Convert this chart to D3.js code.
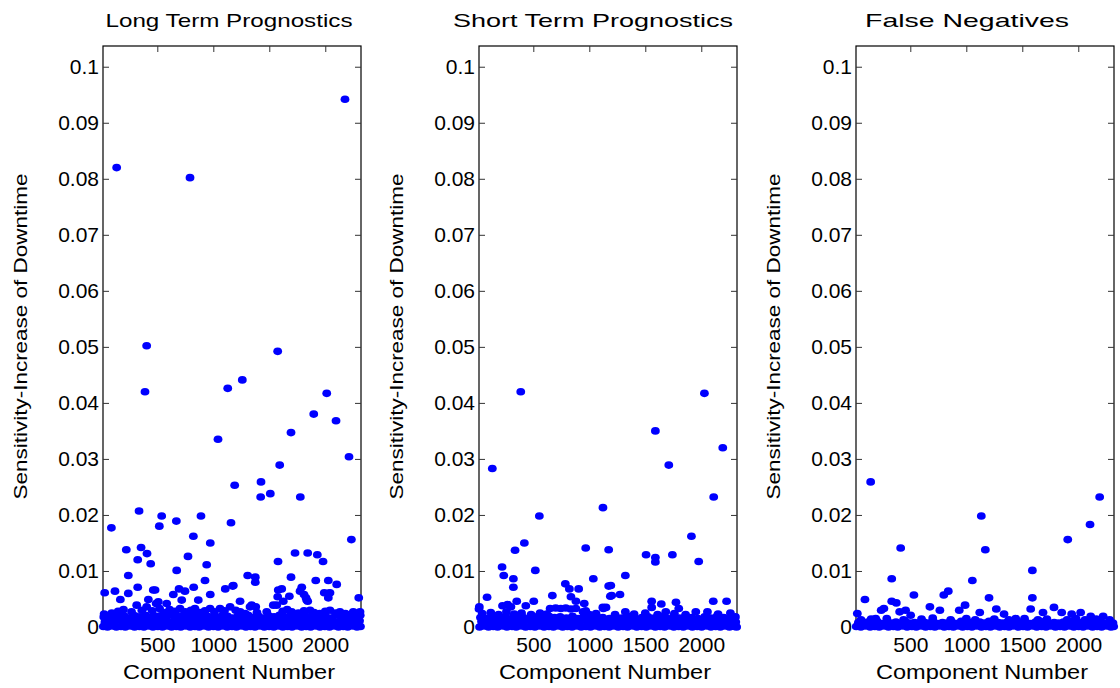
<!DOCTYPE html>
<html>
<head>
<meta charset="utf-8">
<title>Sensitivity scatter</title>
<script src="https://cdnjs.cloudflare.com/ajax/libs/d3/7.8.5/d3.min.js"></script>
<style>
  body { margin: 0; background: #fff; }
  text { font-family: Arial, "Liberation Sans", sans-serif; fill: #000; }
  .tick line { stroke: #333; }
</style>
</head>
<body>
<svg id="chart" width="1120" height="688"></svg>
<script>
// ---- data ----
var panelTitles = ["Long Term Prognostics", "Short Term Prognostics", "False Negatives"];
var xLabel = "Component Number";
var yLabel = "Sensitivity-Increase of Downtime";
var xTicks = [500, 1000, 1500, 2000];
var yTicks = [0, 0.01, 0.02, 0.03, 0.04, 0.05, 0.06, 0.07, 0.08, 0.09, 0.1];
var xRange = [15, 2319];
var yRange = [0, 0.1037];

// long term prognostics: visible outliers
var longTerm = [
  [137,0.0820],[792,0.0802],[2176,0.0942],[405,0.0502],[390,0.0420],[1575,0.0492],[1129,0.0426],
  [1259,0.0441],[1042,0.0335],[2013,0.0417],[1897,0.0380],[2096,0.0368],[1694,0.0347],[2212,0.0304],
  [1593,0.0289],[1191,0.0253],[1426,0.0259],[1423,0.0232],[1509,0.0238],[1777,0.0232],[337,0.0207],
  [539,0.0198],[518,0.0180],[670,0.0189],[890,0.0198],[822,0.0162],[973,0.0150],[1158,0.0186],
  [90,0.0177],[2233,0.0156],[223,0.0138],[355,0.0142],[408,0.0131],[325,0.0120],[441,0.0113],
  [774,0.0126],[941,0.0111],[673,0.0101],[241,0.0092],[926,0.0083],[325,0.0071],[30,0.0061],
  [122,0.0064],[241,0.0060],[480,0.0066],[464,0.0066],[694,0.0068],[825,0.0071],[973,0.0058],[1107,0.0068],
  [1173,0.0073],[170,0.0049],[420,0.0049],[643,0.0058],[747,0.0064],[718,0.0048],[866,0.0048],
  [509,0.0045],[584,0.0042],[1578,0.0117],[1730,0.0132],[1843,0.0132],[1929,0.0129],[1980,0.0117],
  [1307,0.0092],[1375,0.0089],[1375,0.0080],[1694,0.0089],[1915,0.0083],[2027,0.0083],[2102,0.0076],
  [1179,0.0074],[1611,0.0068],[1790,0.0071],[1775,0.0064],[1991,0.0061],[2042,0.0061],[2027,0.0052],
  [2299,0.0052],[1679,0.0055],[1828,0.0052],[1843,0.0046],[1575,0.0054],[1239,0.0046],[1343,0.0039],
  [1379,0.0036],[1625,0.0046],[1536,0.0039],[1580,0.0066],[1810,0.0058],[1834,0.0048],[2030,0.0060]
];
// long term prognostics: the crowded band near zero
var longTermLow = [
  [18,0.0001],[55,0],[96,0.0002],[134,0],[176,0.0001],[214,0],[259,0.0002],[297,0],[341,0.0001],[380,0],
  [423,0.0002],[461,0],[505,0.0001],[546,0],[588,0.0002],[627,0],[671,0.0001],[709,0],[752,0.0002],[793,0],
  [836,0.0001],[874,0],[918,0.0002],[957,0],[1001,0.0001],[1043,0],[1085,0.0002],[1124,0],[1167,0.0001],
  [1206,0],[1250,0.0002],[1291,0],[1333,0.0001],[1372,0],[1416,0.0002],[1455,0],[1499,0.0001],[1540,0],
  [1582,0.0002],[1621,0],[1664,0.0001],[1703,0],[1747,0.0002],[1788,0],[1830,0.0001],[1869,0],[1913,0.0002],
  [1952,0],[1996,0.0001],[2037,0],[2079,0.0002],[2118,0],[2161,0.0001],[2200,0],[2244,0.0002],[2283,0],[2314,0.0001],
  [32,0.0009],[77,0.0011],[118,0.0008],[160,0.0012],[201,0.0009],[243,0.0010],[284,0.0008],[326,0.0011],
  [365,0.0009],[408,0.0012],[447,0.0008],[490,0.0010],[531,0.0009],[574,0.0011],[613,0.0008],[657,0.0012],
  [697,0.0009],[738,0.0010],[780,0.0008],[822,0.0011],[862,0.0009],[905,0.0012],[944,0.0008],[987,0.0010],
  [1028,0.0009],[1071,0.0011],[1110,0.0008],[1153,0.0012],[1194,0.0009],[1236,0.0010],[1277,0.0008],
  [1319,0.0011],[1360,0.0009],[1402,0.0012],[1441,0.0008],[1484,0.0010],[1525,0.0009],[1568,0.0011],
  [1607,0.0008],[1650,0.0012],[1691,0.0009],[1733,0.0010],[1774,0.0008],[1816,0.0011],[1857,0.0009],
  [1899,0.0012],[1938,0.0008],[1981,0.0010],[2022,0.0009],[2065,0.0011],[2104,0.0008],[2147,0.0012],
  [2188,0.0009],[2230,0.0010],[2271,0.0008],[2306,0.0011],
  [22,0.0018],[70,0.0020],[112,0.0017],[165,0.0021],[208,0.0019],[250,0.0016],[300,0.0020],[346,0.0018],
  [396,0.0021],[440,0.0017],[487,0.0019],[528,0.0020],[580,0.0016],[625,0.0021],[668,0.0018],[716,0.0020],
  [760,0.0017],[805,0.0019],[850,0.0021],[893,0.0016],[940,0.0020],[990,0.0018],[1035,0.0017],[1080,0.0021],
  [1128,0.0019],[1172,0.0016],[1220,0.0020],[1266,0.0018],[1312,0.0021],[1355,0.0017],[1405,0.0019],
  [1450,0.0016],[1496,0.0020],[1543,0.0018],[1590,0.0021],[1634,0.0017],[1680,0.0019],[1726,0.0020],
  [1772,0.0016],[1818,0.0021],[1866,0.0018],[1910,0.0020],[1958,0.0017],[2003,0.0019],[2050,0.0016],
  [2098,0.0021],[2142,0.0018],[2190,0.0020],[2236,0.0017],[2282,0.0019],[2312,0.0021],
  [25,0.0023],[93,0.0025],[150,0.0028],[198,0.0031],[270,0.0027],[316,0.0039],[362,0.0030],[405,0.0036],
  [455,0.0029],[490,0.0042],[520,0.0033],[560,0.0026],[610,0.0031],[660,0.0028],[703,0.0033],[750,0.0027],
  [800,0.0030],[836,0.0033],[880,0.0026],[925,0.0029],[971,0.0033],[1010,0.0027],[1060,0.0033],[1100,0.0029],
  [1150,0.0036],[1200,0.0030],[1240,0.0027],[1285,0.0024],[1328,0.0036],[1390,0.0026],[1477,0.0027],
  [1566,0.0039],[1620,0.0028],[1660,0.0031],[1700,0.0027],[1760,0.0025],[1810,0.0029],[1864,0.0030],
  [1900,0.0026],[1950,0.0024],[2000,0.0028],[2042,0.0030],[2090,0.0025],[2131,0.0027],[2180,0.0024],
  [2250,0.0027],[2310,0.0027]
];

// short term prognostics
var shortTerm = [
  [134,0.0283],[388,0.0420],[554,0.0198],[420,0.0150],[337,0.0137],[1122,0.0213],[968,0.0141],
  [1173,0.0138],[1590,0.0350],[1710,0.0289],[2028,0.0417],[2192,0.0320],[2111,0.0232],[1912,0.0162],
  [221,0.0107],[236,0.0092],[322,0.0086],[322,0.0071],[518,0.0101],[1036,0.0086],[1173,0.0073],
  [786,0.0077],[822,0.0068],[905,0.0068],[87,0.0053],[352,0.0046],[504,0.0046],[670,0.0056],
  [836,0.0054],[881,0.0046],[955,0.0042],[1188,0.0055],[1121,0.0035],[225,0.0038],[433,0.0038],
  [18,0.0036],[968,0.0029],[1507,0.0129],[1590,0.0124],[1590,0.0116],[1742,0.0129],[1977,0.0117],
  [1322,0.0092],[1192,0.0074],[1200,0.0056],[1274,0.0058],[1557,0.0046],[1643,0.0041],[1774,0.0044],
  [2107,0.0046],[2226,0.0046],[1557,0.0035],[1799,0.0033],[1149,0.0035],[15,0.0032],
  [650,0.0033],[700,0.0034],[745,0.0033],[790,0.0034],[835,0.0032],[880,0.0033],[270,0.0040],[300,0.0036]
];
var shortTermLow = [
  [20,0],[61,0.0002],[100,0],[143,0.0001],[181,0],[226,0.0002],[264,0],[309,0.0001],[347,0],[392,0.0002],
  [431,0],[474,0.0001],[514,0],[557,0.0002],[596,0],[640,0.0001],[679,0],[723,0.0002],[762,0],[805,0.0001],
  [846,0],[888,0.0002],[927,0],[971,0.0001],[1010,0],[1054,0.0002],[1093,0],[1136,0.0001],[1177,0],
  [1219,0.0002],[1258,0],[1302,0.0001],[1341,0],[1385,0.0002],[1424,0],[1467,0.0001],[1508,0],[1550,0.0002],
  [1589,0],[1633,0.0001],[1672,0],[1716,0.0002],[1755,0],[1798,0.0001],[1839,0],[1881,0.0002],[1920,0],
  [1964,0.0001],[2003,0],[2047,0.0002],[2086,0],[2129,0.0001],[2170,0],[2212,0.0002],[2251,0],[2295,0.0001],[2316,0],
  [38,0.0010],[81,0.0008],[124,0.0011],[164,0.0009],[205,0.0012],[248,0.0008],[289,0.0010],[330,0.0009],
  [371,0.0011],[413,0.0008],[454,0.0012],[495,0.0009],[538,0.0010],[578,0.0008],[620,0.0011],[661,0.0009],
  [703,0.0012],[744,0.0008],[785,0.0010],[828,0.0009],[868,0.0011],[910,0.0008],[951,0.0012],[992,0.0009],
  [1034,0.0010],[1075,0.0008],[1117,0.0011],[1158,0.0009],[1199,0.0012],[1241,0.0008],[1282,0.0010],
  [1323,0.0009],[1365,0.0011],[1406,0.0008],[1448,0.0012],[1489,0.0009],[1530,0.0010],[1572,0.0008],
  [1613,0.0011],[1654,0.0009],[1696,0.0012],[1737,0.0008],[1779,0.0010],[1820,0.0009],[1861,0.0011],
  [1903,0.0008],[1944,0.0012],[1985,0.0009],[2027,0.0010],[2068,0.0008],[2110,0.0011],[2151,0.0009],
  [2192,0.0012],[2234,0.0008],[2275,0.0010],[2308,0.0009],
  [28,0.0017],[85,0.0015],[140,0.0019],[196,0.0016],[250,0.0018],[305,0.0015],[362,0.0019],[410,0.0017],
  [470,0.0016],[530,0.0018],[590,0.0015],[640,0.0019],[690,0.0017],[740,0.0018],[795,0.0016],[850,0.0019],
  [900,0.0015],[950,0.0018],[1010,0.0016],[1065,0.0019],[1120,0.0017],[1180,0.0015],[1236,0.0018],
  [1290,0.0016],[1350,0.0019],[1410,0.0015],[1470,0.0017],[1525,0.0018],[1580,0.0016],[1640,0.0019],
  [1695,0.0015],[1750,0.0018],[1805,0.0016],[1860,0.0019],[1915,0.0017],[1970,0.0015],[2030,0.0018],
  [2085,0.0016],[2140,0.0019],[2200,0.0017],[2255,0.0015],[2305,0.0018],
  [44,0.0024],[120,0.0026],[190,0.0022],[260,0.0027],[330,0.0023],[395,0.0025],[480,0.0022],[560,0.0025],
  [620,0.0023],[944,0.0027],[1000,0.0022],[1060,0.0024],[1125,0.0033],[1230,0.0022],[1322,0.0027],
  [1400,0.0023],[1500,0.0025],[1610,0.0022],[1683,0.0027],[1760,0.0024],[1860,0.0022],[1951,0.0027],
  [2055,0.0027],[2150,0.0023],[2260,0.0025]
];

// false negatives
var falseNeg = [
  [146,0.0259],[414,0.0141],[1134,0.0198],[1170,0.0138],[1906,0.0156],[2105,0.0183],[2191,0.0232],
  [95,0.0049],[334,0.0086],[334,0.0046],[375,0.0043],[532,0.0057],[264,0.0033],[240,0.0030],[27,0.0024],
  [191,0.0015],[405,0.0027],[458,0.0030],[503,0.0021],[675,0.0036],[764,0.0030],[799,0.0057],[839,0.0064],
  [937,0.0030],[989,0.0039],[1054,0.0083],[1120,0.0026],[1203,0.0052],[1268,0.0032],[1337,0.0023],
  [1441,0.0015],[1590,0.0101],[1590,0.0052],[1575,0.0032],[1685,0.0026],[1783,0.0035],[1852,0.0026],
  [1941,0.0023],[2021,0.0026],[2111,0.0019],[2222,0.0019]
];
var falseNegLow = [
  [17,0.0001],[58,0],[99,0.0002],[141,0],[183,0.0001],[222,0],[266,0.0002],[305,0],[349,0.0001],[388,0],
  [430,0.0002],[471,0],[514,0.0001],[553,0],[597,0.0002],[636,0],[680,0.0001],[719,0],[762,0.0002],[803,0],
  [845,0.0001],[884,0],[928,0.0002],[967,0],[1011,0.0001],[1050,0],[1093,0.0002],[1134,0],[1176,0.0001],
  [1215,0],[1259,0.0002],[1298,0],[1342,0.0001],[1381,0],[1424,0.0002],[1465,0],[1507,0.0001],[1546,0],
  [1590,0.0002],[1629,0],[1673,0.0001],[1712,0],[1755,0.0002],[1796,0],[1838,0.0001],[1877,0],[1921,0.0002],
  [1960,0],[2004,0.0001],[2043,0],[2086,0.0002],[2127,0],[2169,0.0001],[2208,0],[2252,0.0002],[2291,0],[2316,0.0001],
  [36,0.0008],[80,0.0006],[121,0.0009],[163,0.0007],[204,0.0010],[247,0.0006],[287,0.0008],[330,0.0007],
  [372,0.0009],[412,0.0006],[455,0.0010],[496,0.0007],[538,0.0008],[580,0.0006],[621,0.0009],[663,0.0007],
  [704,0.0010],[746,0.0006],[787,0.0008],[829,0.0007],[871,0.0009],[911,0.0006],[954,0.0010],[995,0.0007],
  [1037,0.0008],[1079,0.0006],[1120,0.0009],[1161,0.0007],[1203,0.0010],[1245,0.0006],[1286,0.0008],
  [1328,0.0007],[1369,0.0009],[1410,0.0006],[1453,0.0010],[1494,0.0007],[1535,0.0008],[1577,0.0006],
  [1619,0.0009],[1660,0.0007],[1702,0.0010],[1743,0.0006],[1785,0.0008],[1826,0.0007],[1868,0.0009],
  [1909,0.0006],[1950,0.0010],[1993,0.0007],[2034,0.0008],[2075,0.0006],[2117,0.0009],[2159,0.0007],
  [2200,0.0010],[2241,0.0006],[2283,0.0008],[2310,0.0007],
  [60,0.0013],[150,0.0014],[290,0.0015],[440,0.0013],[600,0.0014],[700,0.0016],[860,0.0013],[1000,0.0015],
  [1080,0.0013],[1250,0.0014],[1380,0.0013],[1520,0.0015],[1640,0.0013],[1720,0.0014],[1900,0.0013],
  [1980,0.0015],[2060,0.0013],[2160,0.0014],[2280,0.0013]
];

var panels = [
  { title: panelTitles[0], points: longTerm.concat(longTermLow) },
  { title: panelTitles[1], points: shortTerm.concat(shortTermLow) },
  { title: panelTitles[2], points: falseNeg.concat(falseNegLow) }
];

// ---- layout ----
var svg = d3.select("#chart");
var panelLefts = [103, 479, 856];
var titleCenters = [229, 593, 967];
var titleLengths = [247, 280, 204];
var panelW = 258, plotTop = 46, plotBottom = 627;

var y = d3.scaleLinear().domain(yRange).range([plotBottom, plotTop]);

panels.forEach(function(p, i) {
  var left = panelLefts[i];
  var x = d3.scaleLinear().domain(xRange).range([left, left + panelW]);
  var g = svg.append("g");

  // box
  g.append("rect")
    .attr("x", left).attr("y", plotTop)
    .attr("width", panelW).attr("height", plotBottom - plotTop)
    .attr("fill", "none").attr("stroke", "#000").attr("stroke-width", 1.2);

  // y axis left, with labels
  var ya = g.append("g").attr("transform", "translate(" + left + ",0)")
    .call(d3.axisLeft(y).tickValues(yTicks).tickFormat(d3.format("~g"))
      .tickSizeInner(-6).tickSizeOuter(0).tickPadding(4));
  ya.select(".domain").remove();
  ya.selectAll("text").style("font-size", "21px");

  // mirrored ticks on the right
  var yr = g.append("g").attr("transform", "translate(" + (left + panelW) + ",0)")
    .call(d3.axisRight(y).tickValues(yTicks).tickFormat("").tickSizeInner(-6).tickSizeOuter(0));
  yr.select(".domain").remove();

  // x axis bottom
  var xa = g.append("g").attr("transform", "translate(0," + plotBottom + ")")
    .call(d3.axisBottom(x).tickValues(xTicks).tickFormat(d3.format("d"))
      .tickSizeInner(-6).tickSizeOuter(0).tickPadding(10));
  xa.select(".domain").remove();
  xa.selectAll("text").style("font-size", "21px");

  // x ticks on top
  var xt = g.append("g").attr("transform", "translate(0," + plotTop + ")")
    .call(d3.axisTop(x).tickValues(xTicks).tickFormat("").tickSizeInner(-6).tickSizeOuter(0));
  xt.select(".domain").remove();

  // points
  g.append("g").selectAll("ellipse")
    .data(p.points)
    .enter()
    .append("ellipse")
    .attr("cx", function(d) { return x(d[0]); })
    .attr("cy", function(d) { return y(d[1]); })
    .attr("rx", 4.4).attr("ry", 3.8)
    .attr("fill", "#0000ff");

  // title
  g.append("text")
    .attr("x", titleCenters[i]).attr("y", 27)
    .attr("text-anchor", "middle")
    .attr("textLength", titleLengths[i]).attr("lengthAdjust", "spacingAndGlyphs")
    .style("font-size", "19px")
    .text(p.title);

  // x label
  g.append("text")
    .attr("x", left + panelW / 2 - 3).attr("y", 679)
    .attr("text-anchor", "middle")
    .attr("textLength", 212).attr("lengthAdjust", "spacingAndGlyphs")
    .style("font-size", "20px")
    .text(xLabel);

  // y label
  g.append("text")
    .attr("transform", "translate(" + (left - 83) + "," + (plotTop + plotBottom) / 2 + ") rotate(-90)")
    .attr("text-anchor", "middle")
    .attr("dy", "0.35em")
    .attr("textLength", 326).attr("lengthAdjust", "spacingAndGlyphs")
    .style("font-size", "19px")
    .text(yLabel);
});
</script>
</body>
</html>
